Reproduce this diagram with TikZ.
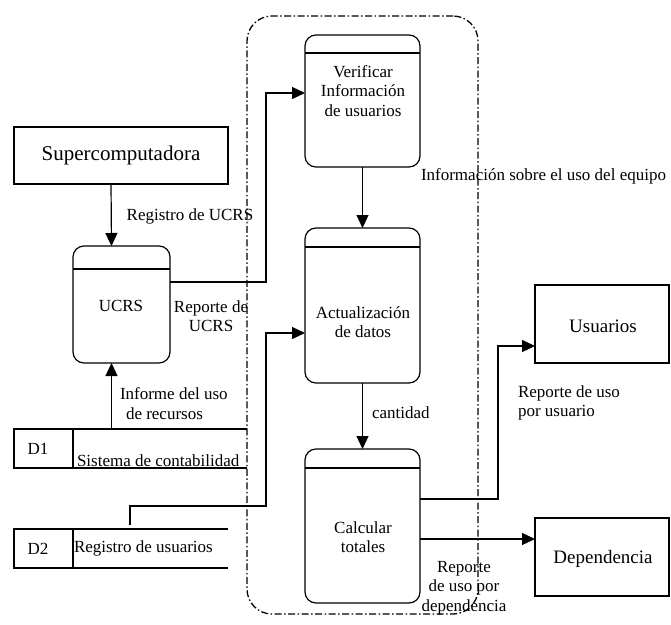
\documentclass[tikz,border=0pt]{standalone}
\usepackage{fontspec}
\setmainfont{Liberation Serif}
\usetikzlibrary{arrows.meta}
\begin{document}
\begin{tikzpicture}[x=1pt,y=-1pt,
  every node/.style={inner sep=0pt,outer sep=0pt},
  lbl/.style={font=\fontsize{17}{19.5}\selectfont,align=center},
  lbll/.style={font=\fontsize{17}{19.5}\selectfont,align=left},
  entity/.style={draw,line width=1.2pt,font=\fontsize{19}{21}\selectfont},
  proc/.style={draw,line width=1.2pt,rounded corners=11pt,
    path picture={\draw[line width=1.2pt]
      ([yshift=-#1]path picture bounding box.north west) --
      ([yshift=-#1]path picture bounding box.north east);}},
  storebox/.style={draw,line width=1.2pt,minimum width=59pt,minimum height=39pt},
  storeline/.style={line width=1.2pt},
  flow/.style={line width=1.2pt,-{Triangle[length=13pt,width=12pt]}},
  boundary/.style={draw,line width=1.3pt,rounded corners=25pt,
    dash pattern=on 7pt off 2.5pt on 1.5pt off 2.5pt}
]
\useasboundingbox (0,0) rectangle (671,624);

% system boundary
\node[boundary,minimum width=231pt,minimum height=598pt] (sys) at (362.5,315) {};

% external entities
\node[entity,minimum width=214pt,minimum height=57pt,font=\fontsize{21}{23}\selectfont]
  (super) at (121,155.5) {Supercomputadora};
\node[entity,minimum width=134pt,minimum height=78pt] (usu) at (602,324) {};
\node[entity,minimum width=134pt,minimum height=78pt] (dep) at (602,557) {};
\node[font=\fontsize{19}{21}\selectfont] (usut) at (603,326) {Usuarios};
\node[font=\fontsize{19}{21}\selectfont] (dept) at (603,559) {Dependencia};

% processes
\node[proc=23pt,minimum width=97pt,minimum height=117pt] (ucrs) at (121.5,304.5) {};
\node[proc=18pt,minimum width=115pt,minimum height=132pt] (verif) at (362.5,101) {};
\node[proc=19pt,minimum width=115pt,minimum height=155pt] (actu) at (362.5,305.5) {};
\node[proc=19pt,minimum width=115pt,minimum height=154pt] (calc) at (362.5,526) {};

\node[lbl] (ucrst) at (121,306) {UCRS};
\node[lbl] (veriftxt) at (363,91) {Verificar\\Información\\de usuarios};
\node[lbl] (actut) at (363,322) {Actualización\\de datos};
\node[lbl] (calct) at (363,537) {Calcular\\totales};

% data stores
\node[storebox] (d1) at (43.5,448.5) {};
\node[lbl] (d1t) at (38,449) {D1};
\coordinate (d1a) at (247,429);
\coordinate (d1b) at (247,468);
\draw[storeline] (d1.north east) -- (d1a);
\draw[storeline] (d1.south east) -- (d1b);
\node[lbl,anchor=base west] (d1n) at (77,466.5) {Sistema de contabilidad};

\node[storebox] (d2) at (43.5,548.5) {};
\node[lbl] (d2t) at (38,549) {D2};
\coordinate (d2a) at (228,529);
\coordinate (d2b) at (228,568);
\draw[storeline] (d2.north east) -- (d2a);
\draw[storeline] (d2.south east) -- (d2b);
\node[lbl,anchor=west] (d2n) at (74,548) {Registro de usuarios};

% data flows
\draw[flow] ([xshift=-10pt]super.south) -- ([xshift=-10pt]ucrs.north);
\draw[flow] ([xshift=-10pt]ucrs.south |- d1.north) -- ([xshift=-10pt]ucrs.south);

\coordinate (j1) at (266,282);
\coordinate (j2) at (266,93);
\draw[flow] (ucrs.east |- j1) -- (j1) -- (j2) -- (verif.west |- j2);

\draw[flow] (verif.south) -- (actu.north);
\draw[flow] (actu.south) -- (calc.north);

\coordinate (k0) at (130,525);
\coordinate (k1) at (130,506);
\coordinate (k2) at (266,506);
\coordinate (k3) at (266,333);
\draw[flow] (k0) -- (k1) -- (k2) -- (k3) -- (actu.west |- k3);

\coordinate (m1) at (498,499);
\coordinate (m2) at (498,346);
\draw[flow] (calc.east |- m1) -- (m1) -- (m2) -- (usu.west |- m2);

\coordinate (n1) at (535,539);
\draw[flow] (calc.east |- n1) -- (dep.west |- n1);

% flow labels
\node[lbl] (f1) at (190,216) {Registro de UCRS};
\node[lbl] (f2) at (211,316) {Reporte de\\UCRS};
\node[lbll,anchor=west] (f3) at (120,403.5) {Informe del uso\\\hspace*{6pt}de recursos};
\node[lbl,anchor=west] (f4) at (421,176) {Información sobre el uso del equipo};
\node[lbl,anchor=west] (f5) at (372,413) {cantidad};
\node[lbll,anchor=west] (f6) at (518,403) {Reporte de uso\\por usuario};
\node[lbl] (f7) at (464,588) {Reporte\\de uso por\\dependencia};
\end{tikzpicture}
\end{document}
